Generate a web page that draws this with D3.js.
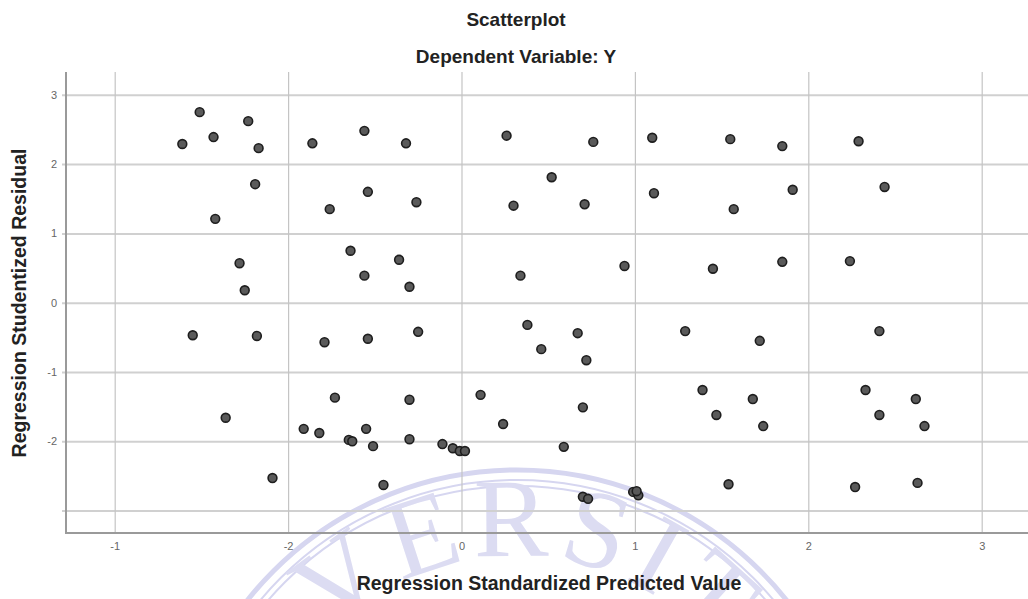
<!DOCTYPE html>
<html>
<head>
<meta charset="utf-8">
<script src="https://cdn.jsdelivr.net/npm/d3@7"></script>
<style>
  body { margin: 0; background: #fff; }
  text { font-family: "Liberation Sans", Arial, sans-serif; }
</style>
</head>
<body>
<script>
// values
var predicted = [
  -1.51, -1.61, -1.43, -1.23, -1.17, -0.86, -0.56, -0.32, 0.26, 0.76, 1.10, 1.55, 1.85, 2.29,
  -1.19, -1.42, -0.76, -0.54, -0.26, 0.30, 0.52, 0.71, 1.11, 1.57, 1.91, 2.44,
  -1.28, -1.25, -0.64, -0.56, -0.36, -0.30, 0.34, 0.94, 1.45, 1.85, 2.24,
  -1.55, -1.18, -0.79, -0.54, -0.25, 0.38, 0.46, 0.67, 0.72, 1.29, 1.72, 2.41,
  -1.36, -0.73, -0.30, 0.11, 0.24, 0.70, 1.39, 1.47, 1.68, 1.74, 2.33, 2.41, 2.62, 2.67,
  -0.91, -0.82, -0.65, -0.63, -0.55, -0.51, -0.30, -0.11, -0.05, -0.01, 0.02, 0.59,
  -1.09, -0.45, 0.70, 0.73, 0.99, 1.02, 1.01, 1.54, 2.27, 2.63
];
var residual = [
  2.75, 2.29, 2.39, 2.62, 2.23, 2.30, 2.48, 2.30, 2.41, 2.32, 2.38, 2.36, 2.26, 2.33,
  1.71, 1.21, 1.35, 1.60, 1.45, 1.40, 1.81, 1.42, 1.58, 1.35, 1.63, 1.67,
  0.57, 0.18, 0.75, 0.39, 0.62, 0.23, 0.39, 0.53, 0.49, 0.59, 0.60,
  -0.47, -0.48, -0.57, -0.52, -0.42, -0.32, -0.67, -0.44, -0.83, -0.41, -0.55, -0.41,
  -1.66, -1.37, -1.40, -1.33, -1.75, -1.51, -1.26, -1.62, -1.39, -1.78, -1.26, -1.62, -1.39, -1.78,
  -1.82, -1.88, -1.98, -2.00, -1.82, -2.07, -1.97, -2.04, -2.10, -2.14, -2.14, -2.08,
  -2.53, -2.63, -2.80, -2.83, -2.73, -2.78, -2.72, -2.62, -2.66, -2.60
];
var xTicks = [-2, -1, 0, 1, 2, 3];
var xTickLabels = ["-1", "-2", "0", "1", "2", "3"];
var yTicks = [-3, -2, -1, 0, 1, 2, 3];
var yTickLabels = ["", "-2", "-1", "0", "1", "2", "3"];

var W = 1028, H = 599;
var plot = {left: 66, right: 1028, top: 72, bottom: 533};

var svg = d3.select("body").append("svg")
  .attr("width", W)
  .attr("height", H);

// faint university seal watermark behind the chart
var seal = svg.append("g").attr("transform", "translate(517,814)");
[344, 334, 328].forEach(function (r, i) {
  seal.append("circle")
    .attr("r", r)
    .attr("fill", "none")
    .attr("stroke", "#d6d6f0")
    .attr("stroke-width", i == 0 ? 5 : 2);
});
var arcPath = d3.path();
arcPath.arc(0, 0, 258, -Math.PI / 2 - 1.2, -Math.PI / 2 + 1.2);
seal.append("path")
  .attr("id", "sealArc")
  .attr("d", arcPath.toString())
  .attr("fill", "none");
seal.append("text")
  .style("font-family", "'Liberation Serif', 'DejaVu Serif', serif")
  .style("font-size", "112px")
  .style("letter-spacing", "8px")
  .attr("fill", "#dcdcf2")
  .append("textPath")
  .attr("href", "#sealArc")
  .attr("startOffset", "46%")
  .attr("text-anchor", "middle")
  .text("UNIVERSITAS");

var x = d3.scaleLinear()
  .domain([(plot.left - 461.5) / 173.4, (plot.right - 461.5) / 173.4])
  .range([plot.left, plot.right]);
var y = d3.scaleLinear()
  .domain([(302.7 - plot.bottom) / 69.3, (302.7 - plot.top) / 69.3])
  .range([plot.bottom, plot.top]);

// horizontal grid + y axis
var yAxis = svg.append("g")
  .attr("transform", "translate(" + plot.left + ",0)")
  .call(d3.axisLeft(y).tickValues(yTicks)
    .tickSize(-(plot.right - plot.left))
    .tickPadding(9)
    .tickFormat(function (d, i) { return yTickLabels[i]; }));
yAxis.select(".domain").remove();
yAxis.selectAll(".tick line").attr("stroke", "#d0d0d0").attr("stroke-width", 2).attr("x1", -4);
yAxis.selectAll(".tick text").attr("fill", "#666").style("font-size", "11px");

// vertical grid + x axis
var xAxis = svg.append("g")
  .attr("transform", "translate(0," + plot.bottom + ")")
  .call(d3.axisBottom(x).tickValues(xTicks)
    .tickSize(-(plot.bottom - plot.top))
    .tickPadding(9)
    .tickFormat(function (d, i) { return xTickLabels[i]; }));
xAxis.select(".domain").remove();
xAxis.selectAll(".tick line").attr("stroke", "#c4c4c4").attr("stroke-width", 1.2);
xAxis.selectAll(".tick text").attr("fill", "#666").style("font-size", "11px");

// axis lines
svg.append("line")
  .attr("x1", plot.left).attr("x2", plot.left)
  .attr("y1", plot.top).attr("y2", plot.bottom + 1)
  .attr("stroke", "#9a9a9a").attr("stroke-width", 2);
svg.append("line")
  .attr("x1", plot.left).attr("x2", plot.right)
  .attr("y1", plot.bottom).attr("y2", plot.bottom)
  .attr("stroke", "#9a9a9a").attr("stroke-width", 2);

// points
svg.append("g").selectAll("circle")
  .data(predicted)
  .enter()
  .append("circle")
  .attr("cx", function (d) { return x(d); })
  .attr("cy", function (d, i) { return y(residual[i]); })
  .attr("r", 4.4)
  .attr("fill", "#5a5a5a")
  .attr("stroke", "#1e1e1e")
  .attr("stroke-width", 1.6);

// titles
svg.append("text")
  .text("Scatterplot")
  .attr("x", 516).attr("y", 26)
  .attr("text-anchor", "middle")
  .attr("fill", "#222")
  .style("font-size", "19px").style("font-weight", "bold");
svg.append("text")
  .text("Dependent Variable: Y")
  .attr("x", 516).attr("y", 63)
  .attr("text-anchor", "middle")
  .attr("fill", "#222")
  .style("font-size", "19px").style("font-weight", "bold");

svg.append("text")
  .text("Regression Standardized Predicted Value")
  .attr("x", 549).attr("y", 590)
  .attr("text-anchor", "middle")
  .attr("fill", "#222")
  .style("font-size", "19.5px").style("font-weight", "bold");
svg.append("text")
  .text("Regression Studentized Residual")
  .attr("transform", "translate(26,303) rotate(-90)")
  .attr("text-anchor", "middle")
  .attr("fill", "#222")
  .style("font-size", "19.5px").style("font-weight", "bold");
</script>
</body>
</html>
